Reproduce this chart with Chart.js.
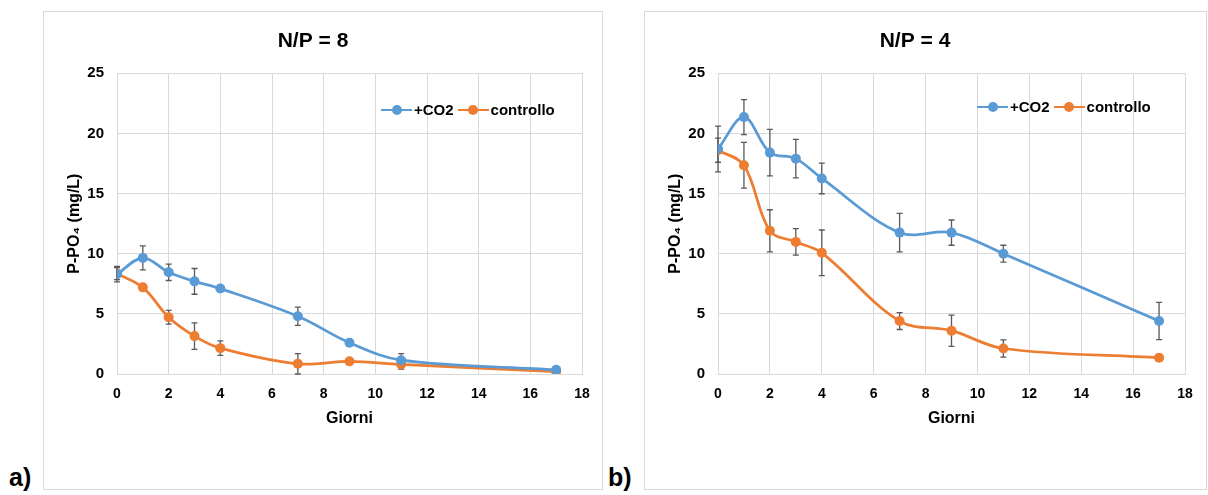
<!DOCTYPE html>
<html>
<head>
<meta charset="utf-8">
<script src="https://cdn.jsdelivr.net/npm/chart.js@4.4.0/dist/chart.umd.min.js"></script>
<style>
  body {
    margin: 0;
    width: 1208px;
    height: 495px;
    position: relative;
    overflow: hidden;
    background: #fff;
    font-family: "Liberation Sans", Arial, sans-serif;
    color: #000;
  }
  .panel {
    position: absolute;
    top: 11px;
    border: 1px solid #d9d9d9;
  }
  .panel canvas {
    display: block;
  }
  .tag {
    position: absolute;
    top: 465px;
    font-size: 25px;
    font-weight: bold;
    line-height: 1;
  }
  .legend {
    position: absolute;
    display: flex;
    align-items: center;
    font-size: 15px;
    font-weight: bold;
    line-height: 16px;
    white-space: nowrap;
  }
  .key {
    position: relative;
    display: inline-block;
    width: 31px;
    height: 2.5px;
  }
  .key::after {
    content: "";
    position: absolute;
    left: 10.5px;
    top: -4px;
    width: 10px;
    height: 10px;
    border-radius: 50%;
    background: inherit;
  }
  .legend span.txt {
    margin: 0 4px 0 2px;
  }
</style>
</head>
<body>
  <div class="panel" style="left: 43px">
    <canvas id="chartNP8" width="558" height="477"></canvas>
  </div>
  <div class="panel" style="left: 644px">
    <canvas id="chartNP4" width="561" height="477"></canvas>
  </div>

  <div class="legend" style="left: 381px; top: 102px">
    <span class="key" style="background: #5b9bd5"></span><span class="txt">+CO2</span>
    <span class="key" style="background: #ed7d31"></span><span class="txt">controllo</span>
  </div>
  <div class="legend" style="left: 977px; top: 99px">
    <span class="key" style="background: #5b9bd5"></span><span class="txt">+CO2</span>
    <span class="key" style="background: #ed7d31"></span><span class="txt">controllo</span>
  </div>

  <div class="tag" style="left: 9px">a)</div>
  <div class="tag" style="left: 608px">b)</div>

<script>
const giorni = [0, 1, 2, 3, 4, 7, 9, 11, 17];
const xTicks = [0, 2, 4, 6, 8, 10, 12, 14, 16, 18];
const yTicks = [0, 5, 10, 15, 20, 25];

// N/P = 8
const co2NP8 = [8.3, 9.65, 8.45, 7.7, 7.1, 4.8, 2.6, 1.15, 0.35];
const co2NP8Err = [0.65, 1.0, 0.68, 1.07, 0.25, 0.76, 0.2, 0.55, 0.1];
const ctrlNP8 = [8.35, 7.2, 4.72, 3.15, 2.15, 0.85, 1.05, 0.8, 0.2];
const ctrlNP8Err = [0.5, 0.1, 0.57, 1.1, 0.6, 0.85, 0.15, 0.4, 0.1];

// N/P = 4
const co2NP4 = [18.7, 21.35, 18.4, 17.9, 16.25, 11.75, 11.75, 10.0, 4.4];
const co2NP4Err = [1.9, 1.45, 1.93, 1.6, 1.27, 1.6, 1.05, 0.7, 1.55];
const ctrlNP4 = [18.6, 17.35, 11.9, 10.98, 10.07, 4.4, 3.6, 2.12, 1.35];
const ctrlNP4Err = [1.0, 1.9, 1.75, 1.1, 1.9, 0.7, 1.3, 0.72, 0.1];

const COLOR = {
  blue: "#5b9bd5",
  orange: "#ed7d31",
  grid: "#d9d9d9",
  err: "#595959",
  text: "#000",
};

Chart.defaults.font.family = '"Liberation Sans", Arial, sans-serif';
Chart.defaults.color = COLOR.text;

// vertical error bars, drawn under the lines and markers
const errorBars = {
  id: "errorBars",
  beforeDatasetsDraw(chart) {
    const { ctx, scales } = chart;
    ctx.save();
    ctx.strokeStyle = COLOR.err;
    ctx.lineWidth = 1.3;
    chart.data.datasets.forEach((ds) => {
      ds.data.forEach((p, i) => {
        const e = ds.errors[i];
        if (!e) return;
        const px = scales.x.getPixelForValue(p.x);
        const top = scales.y.getPixelForValue(p.y + e);
        const bot = scales.y.getPixelForValue(Math.max(p.y - e, 0));
        ctx.beginPath();
        ctx.moveTo(px, top);
        ctx.lineTo(px, bot);
        ctx.moveTo(px - 3, top);
        ctx.lineTo(px + 3, top);
        ctx.moveTo(px - 3, bot);
        ctx.lineTo(px + 3, bot);
        ctx.stroke();
      });
    });
    ctx.restore();
  },
};

const series = (label, values, errors, color) => ({
  label: label,
  data: giorni.map((g, i) => ({ x: g, y: values[i] })),
  errors: errors,
  borderColor: color,
  backgroundColor: color,
  borderWidth: 2.75,
  pointRadius: 5,
  pointBorderWidth: 0,
  tension: 0.35,
});

function makeChart(id, title, co2, co2Err, ctrl, ctrlErr, padRight) {
  return new Chart(document.getElementById(id), {
    type: "line",
    data: {
      datasets: [
        series("+CO2", co2, co2Err, COLOR.blue),
        series("controllo", ctrl, ctrlErr, COLOR.orange),
      ],
    },
    options: {
      responsive: false,
      animation: false,
      layout: {
        padding: { left: 0, right: padRight, top: 0, bottom: 61 },
      },
      plugins: {
        legend: { display: false },
        tooltip: { enabled: false },
        title: {
          display: true,
          text: title,
          color: COLOR.text,
          font: { size: 21, weight: "bold" },
          padding: { top: 17, bottom: 19 },
        },
      },
      scales: {
        x: {
          type: "linear",
          min: xTicks[0],
          max: xTicks[xTicks.length - 1],
          afterBuildTicks: (s) => {
            s.ticks = xTicks.map((v) => ({ value: v }));
          },
          afterFit: (s) => {
            s.height = 54;
          },
          grid: { color: COLOR.grid, drawTicks: false },
          border: { color: COLOR.grid },
          ticks: {
            padding: 12,
            font: { size: 14, weight: "bold" },
          },
          title: {
            display: true,
            text: "Giorni",
            font: { size: 16, weight: "bold" },
            padding: { top: 0, bottom: 0 },
          },
        },
        y: {
          min: yTicks[0],
          max: yTicks[yTicks.length - 1],
          afterBuildTicks: (s) => {
            s.ticks = yTicks.map((v) => ({ value: v }));
          },
          afterFit: (s) => {
            s.width = 73;
          },
          grid: { color: COLOR.grid, drawTicks: false },
          border: { color: COLOR.grid },
          ticks: {
            padding: 13,
            font: { size: 15, weight: "bold" },
          },
          title: {
            display: true,
            text: "P-PO₄ (mg/L)",
            font: { size: 16, weight: "bold" },
            padding: { top: 21, bottom: 0 },
          },
        },
      },
    },
    plugins: [errorBars],
  });
}

makeChart("chartNP8", "N/P = 8", co2NP8, co2NP8Err, ctrlNP8, ctrlNP8Err, 20);
makeChart("chartNP4", "N/P = 4", co2NP4, co2NP4Err, ctrlNP4, ctrlNP4Err, 21);
</script>
</body>
</html>
